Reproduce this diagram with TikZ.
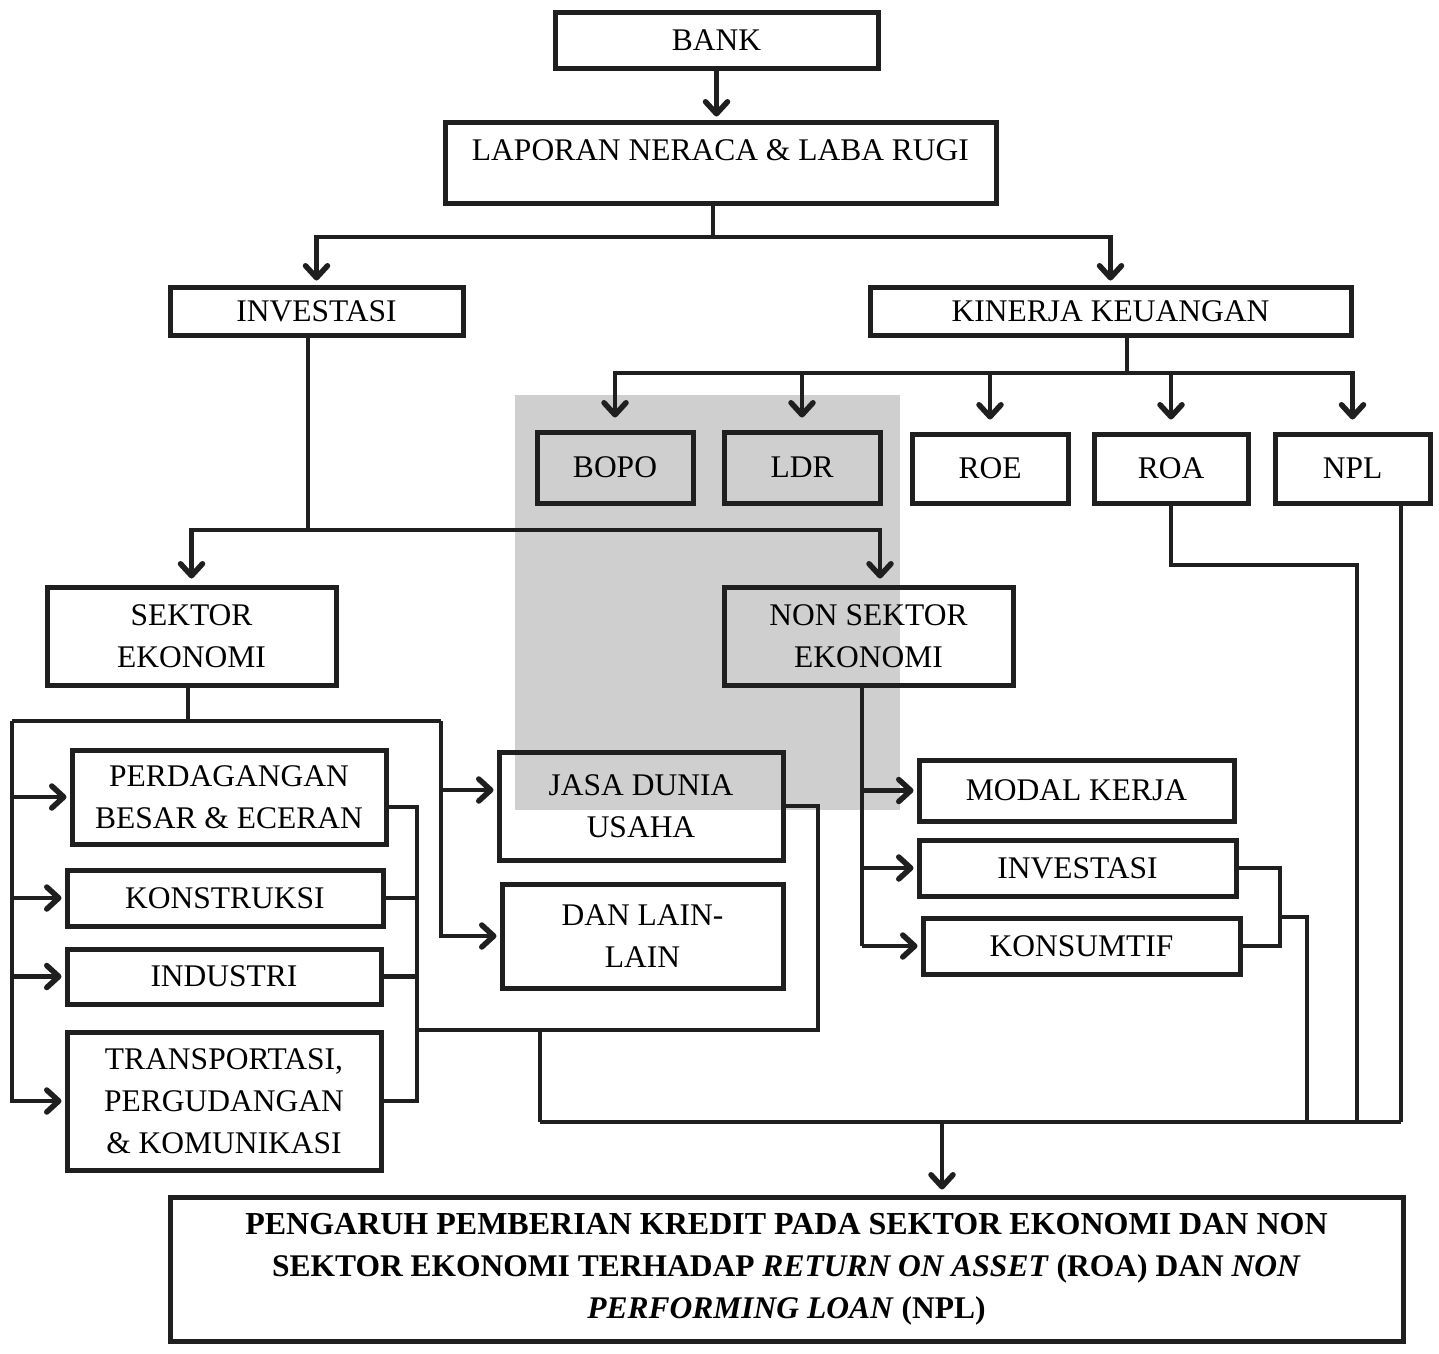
\documentclass[tikz,border=0pt]{standalone}
\usepackage{fontspec}
\setmainfont{Liberation Serif}
\usetikzlibrary{arrows.meta}
\newcommand\mkbox[6]{\node[box, minimum width={#4-#2}, minimum height={#5-#3}] (#1) at ({(#2+#4)/2},{(#3+#5)/2}) {#6};}
\begin{document}
\begin{tikzpicture}[x=1pt,y=-1pt,
  box/.style={draw=black!88, line width=5pt, inner sep=0pt, align=center, text=black, font=\fontsize{31.5}{42}\selectfont},
  ln/.style={draw=black!88, line width=4.2pt},
  arr/.style={ln, -{Straight Barb[length=12pt,width=22pt,line width=5.5pt,round]}},
]
\useasboundingbox (0,0) rectangle (1439,1353);
\fill[white] (0,0) rectangle (1439,1353);
% watermark square
\fill[black!19] (515,395) rectangle (900,810);

% boxes
\mkbox{bank}{555}{12}{878}{68}{BANK}
\node[box, minimum width=551, minimum height=81, text height=22pt, text depth=26pt] (lap) at (720.5,162.5) {LAPORAN NERACA \& LABA RUGI};
\mkbox{inv}{170}{287}{463}{335}{INVESTASI}
\mkbox{kin}{870}{287}{1351}{335}{KINERJA KEUANGAN}
\mkbox{bopo}{537}{432}{693}{503}{BOPO}
\mkbox{ldr}{724}{432}{880}{503}{LDR}
\mkbox{roe}{912}{434}{1068}{503}{ROE}
\mkbox{roa}{1094}{434}{1248}{503}{ROA}
\mkbox{npl}{1275}{434}{1430}{503}{NPL}
\mkbox{sek}{47}{587}{336}{685}{SEKTOR\\EKONOMI}
\mkbox{non}{724}{587}{1013}{685}{NON SEKTOR\\EKONOMI}
\mkbox{perd}{72}{750}{386}{844}{PERDAGANGAN\\BESAR \& ECERAN}
\mkbox{kons}{67}{870}{383}{926}{KONSTRUKSI}
\mkbox{ind}{67}{949}{381}{1004}{INDUSTRI}
\mkbox{trans}{67}{1032}{381}{1170}{TRANSPORTASI,\\PERGUDANGAN\\\& KOMUNIKASI}
\mkbox{jasa}{499}{752}{783}{860}{JASA DUNIA\\USAHA}
\mkbox{dan}{502}{884}{783}{988}{DAN LAIN-\\LAIN}
\mkbox{modal}{919}{760}{1234}{821}{MODAL KERJA}
\mkbox{inv2}{919}{840}{1236}{896}{INVESTASI}
\mkbox{konsm}{923}{918}{1240}{974}{KONSUMTIF}
\mkbox{title}{170}{1197}{1403}{1341}{\fontsize{32}{42.5}\selectfont\bfseries PENGARUH PEMBERIAN KREDIT PADA SEKTOR EKONOMI DAN NON\\\bfseries SEKTOR EKONOMI TERHADAP \textit{RETURN ON ASSET} (ROA) DAN \textit{NON}\\\bfseries\textit{PERFORMING LOAN} (NPL)}

% top
\draw[arr, shorten >=3pt] (bank.south) -- (bank.south |- lap.north);
\coordinate (j1) at (713,237);
\draw[ln] (lap.south -| j1) -- (j1);
\draw[arr, shorten >=4pt] (j1) -| (inv.north);
\draw[arr, shorten >=4pt] (j1) -| (kin.north);

% kinerja
\coordinate (j2) at (1127,373);
\draw[ln] (kin.south -| j2) -- (j2);
\foreach \n in {bopo,ldr,roe,roa,npl} \draw[arr, shorten >=12pt] (j2) -| (\n.north);

% ROA / NPL to bottom bus
\coordinate (r1) at (1357,565);
\coordinate (r2) at (1357,1122);
\draw[ln] (roa.south) |- (r1) -- (r2);
\coordinate (n1) at (1401,1122);
\draw[ln] (n1 |- npl.south) -- (n1);
\coordinate (b1) at (540,1122);
\draw[ln] (b1) -- (n1);
\coordinate (b3) at (942,1122);
\draw[arr, shorten >=5pt] (b3) -- (b3 |- title.north);

% investasi split
\coordinate (j3) at (308,530);
\coordinate (j4) at (880,530);
\draw[ln] (inv.south -| j3) -- (j3);
\draw[arr, shorten >=6pt] (j3) -| (sek.north);
\draw[arr, shorten >=6pt] (j3) -- (j4) -- (j4 |- non.north);

% sektor ekonomi
\coordinate (j5) at (188,721);
\coordinate (L) at (12,721);
\coordinate (M) at (441,721);
\draw[ln] (sek.south -| j5) -- (j5);
\draw[ln] (L) -- (M);
\draw[arr, shorten >=3pt] (L) |- (perd.west);
\draw[arr, shorten >=3pt] (L) |- (kons.west);
\draw[arr, shorten >=3pt] (L) |- (ind.west);
\draw[arr, shorten >=3pt] (L) |- (trans.west);
\coordinate (m1) at (441,790);
\draw[arr, shorten >=3pt] (M) -- (m1) -- (m1 -| jasa.west);
\draw[arr, shorten >=3pt] (M) |- (dan.west);

% right bracket of sektor boxes
\coordinate (R) at (417,807);
\draw[ln] (perd.east |- R) -- (R) -- (R |- trans.east) -- (trans.east);
\draw[ln] (kons.east) -- (kons.east -| R);
\draw[ln] (ind.east) -- (ind.east -| R);
\coordinate (R2) at (417,1030);
\coordinate (R3) at (818,1030);
\coordinate (R4) at (540,1030);
\draw[ln] (R2) -- (R3) |- (jasa.east);
\draw[ln] (R4) -- (b1);

% non sektor ekonomi
\coordinate (k1) at (862,0);
\draw[ln] (non.south -| k1) -- (k1 |- konsm.west);
\draw[arr, shorten >=3pt] (k1 |- modal.west) -- (modal.west);
\draw[arr, shorten >=3pt] (k1 |- inv2.west) -- (inv2.west);
\draw[arr, shorten >=3pt] (k1 |- konsm.west) -- (konsm.west);
\coordinate (s1) at (1280,0);
\draw[ln] (inv2.east) -| (s1 |- konsm.east) -- (konsm.east);
\coordinate (s2) at (1280,917);
\coordinate (s3) at (1307,917);
\draw[ln] (s2) -- (s3) -- (s3 |- b1);
\end{tikzpicture}
\end{document}
